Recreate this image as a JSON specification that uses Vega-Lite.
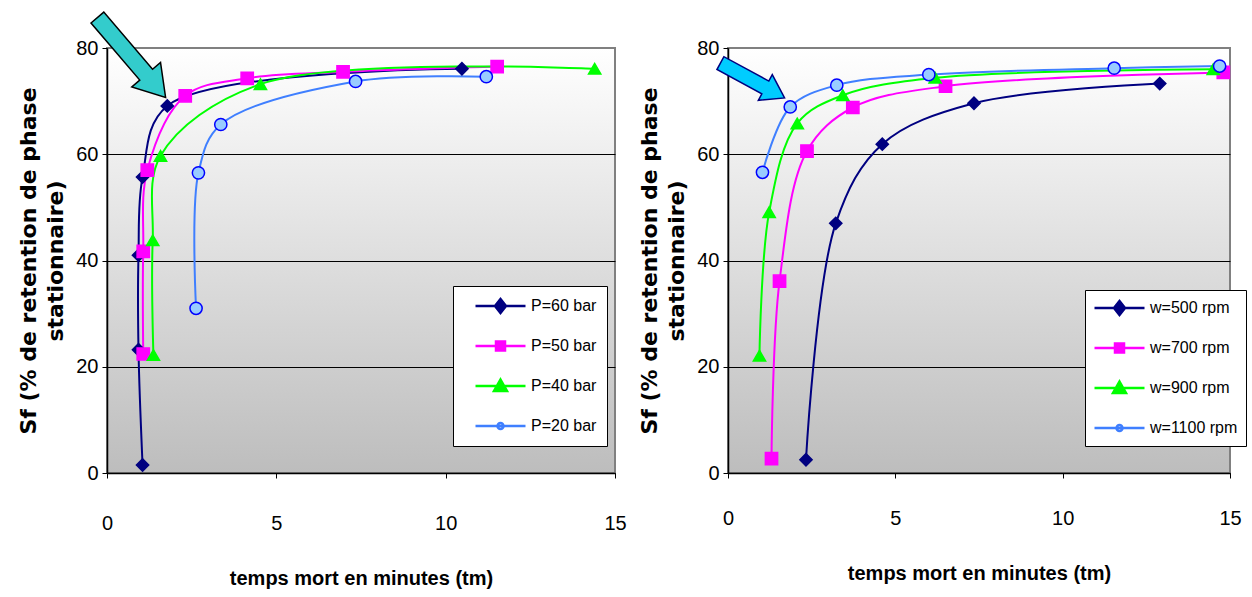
{
  "$schema": "https://vega.github.io/schema/vega-lite/v6.json",
  "background": "white",
  "padding": {"left": 16, "top": 8, "right": 3, "bottom": 5},
  "spacing": 9,
  "datasets": {
    "left": [
      {"series": "P=60 bar", "t": 1.05, "sf": 1.5},
      {"series": "P=60 bar", "t": 0.93, "sf": 23.2},
      {"series": "P=60 bar", "t": 0.93, "sf": 41.0},
      {"series": "P=60 bar", "t": 1.05, "sf": 55.7},
      {"series": "P=60 bar", "t": 1.78, "sf": 69.1},
      {"series": "P=60 bar", "t": 10.48, "sf": 76.1},
      {"series": "P=50 bar", "t": 1.07, "sf": 22.4},
      {"series": "P=50 bar", "t": 1.07, "sf": 41.7},
      {"series": "P=50 bar", "t": 1.19, "sf": 57.0},
      {"series": "P=50 bar", "t": 2.31, "sf": 71.0},
      {"series": "P=50 bar", "t": 4.14, "sf": 74.3},
      {"series": "P=50 bar", "t": 6.97, "sf": 75.5},
      {"series": "P=50 bar", "t": 11.52, "sf": 76.5},
      {"series": "P=40 bar", "t": 1.37, "sf": 22.2},
      {"series": "P=40 bar", "t": 1.35, "sf": 43.8},
      {"series": "P=40 bar", "t": 1.58, "sf": 59.7},
      {"series": "P=40 bar", "t": 4.53, "sf": 73.2},
      {"series": "P=40 bar", "t": 14.4, "sf": 76.1},
      {"series": "P=20 bar", "t": 2.63, "sf": 31.0},
      {"series": "P=20 bar", "t": 2.70, "sf": 56.5},
      {"series": "P=20 bar", "t": 3.36, "sf": 65.6},
      {"series": "P=20 bar", "t": 7.34, "sf": 73.7},
      {"series": "P=20 bar", "t": 11.2, "sf": 74.6}
    ],
    "right": [
      {"series": "w=500 rpm", "t": 2.33, "sf": 2.5},
      {"series": "w=500 rpm", "t": 3.22, "sf": 47.0},
      {"series": "w=500 rpm", "t": 4.61, "sf": 61.9},
      {"series": "w=500 rpm", "t": 7.35, "sf": 69.6},
      {"series": "w=500 rpm", "t": 12.9, "sf": 73.3},
      {"series": "w=700 rpm", "t": 1.30, "sf": 2.7},
      {"series": "w=700 rpm", "t": 1.54, "sf": 36.1},
      {"series": "w=700 rpm", "t": 2.36, "sf": 60.6},
      {"series": "w=700 rpm", "t": 3.73, "sf": 68.8},
      {"series": "w=700 rpm", "t": 6.5, "sf": 72.8},
      {"series": "w=700 rpm", "t": 14.8, "sf": 75.4},
      {"series": "w=900 rpm", "t": 0.94, "sf": 22.1},
      {"series": "w=900 rpm", "t": 1.23, "sf": 49.1},
      {"series": "w=900 rpm", "t": 2.07, "sf": 65.8},
      {"series": "w=900 rpm", "t": 3.43, "sf": 71.1},
      {"series": "w=900 rpm", "t": 6.19, "sf": 74.4},
      {"series": "w=900 rpm", "t": 14.5, "sf": 76.0},
      {"series": "w=1100 rpm", "t": 1.03, "sf": 56.6},
      {"series": "w=1100 rpm", "t": 1.86, "sf": 68.9},
      {"series": "w=1100 rpm", "t": 3.25, "sf": 73.0},
      {"series": "w=1100 rpm", "t": 6.0, "sf": 75.0},
      {"series": "w=1100 rpm", "t": 11.54, "sf": 76.2},
      {"series": "w=1100 rpm", "t": 14.69, "sf": 76.6}
    ],
    "arrowL": [{"t": 1.73, "sf": 70.7}],
    "arrowR": [{"t": 1.69, "sf": 70.6}]
  },
  "config": {
    "view": {
      "stroke": "#808080",
      "strokeWidth": 2,
      "fill": {"gradient": "linear", "x1": 0, "y1": 0, "x2": 0, "y2": 1, "stops": [{"offset": 0, "color": "#ffffff"}, {"offset": 1, "color": "#bdbdbd"}]}
    },
    "axis": {
      "labelFont": "Liberation Sans Narrow, Arial Narrow, Liberation Sans",
      "labelFontSize": 20,
      "labelColor": "black",
      "domainColor": "black",
      "domainWidth": 1.5,
      "tickColor": "black",
      "tickSize": 5,
      "titleColor": "black"
    },
    "axisX": {
      "labelFlush": false,
      "titleFont": "Liberation Sans",
      "titleFontWeight": "bold",
      "titleFontSize": 20,
      "grid": false
    },
    "axisY": {
      "labelPadding": 4,
      "titlePadding": 8,
      "titleFont": "DejaVu Sans",
      "titleFontWeight": "bold",
      "titleFontSize": 22,
      "titleLineHeight": 27,
      "grid": true,
      "gridColor": {"condition": {"test": "datum.value === 80", "value": "#808080"}, "value": "black"},
      "gridWidth": 1
    },
    "legend": {
      "orient": "none",
      "fillColor": "white",
      "strokeColor": "black",
      "padding": 12,
      "rowPadding": 20,
      "clipHeight": 20,
      "symbolSize": 2500,
      "symbolStrokeWidth": 2.5,
      "labelFont": "Liberation Sans Narrow, Arial Narrow, Liberation Sans",
      "labelFontSize": 16,
      "labelColor": "black"
    }
  },
  "hconcat": [
    {
      "width": 508,
      "height": 425,
      "layer": [
        {
          "data": {"name": "left"},
          "mark": {"type": "line", "interpolate": "catmull-rom", "strokeWidth": 2},
          "encoding": {
            "x": {"field": "t", "type": "quantitative", "scale": {"domain": [0, 15], "nice": false}, "axis": {"values": [0, 5, 10, 15], "title": "temps mort en minutes (tm)", "labelPadding": 35, "titlePadding": 35}},
            "y": {"field": "sf", "type": "quantitative", "scale": {"domain": [0, 80], "nice": false}, "axis": {"values": [0, 20, 40, 60, 80], "title": ["Sf (% de retention de phase", "stationnaire)"]}},
            "color": {"field": "series", "type": "nominal", "scale": {"domain": ["P=60 bar", "P=50 bar", "P=40 bar", "P=20 bar"], "range": ["#000080", "#ff00ff", "#00ff00", "#3f7fff"]}, "legend": null},
            "order": {"field": "sf", "type": "quantitative"}
          }
        },
        {
          "data": {"name": "left"},
          "mark": {"type": "point", "filled": true, "opacity": 1, "strokeWidth": 1.5, "size": 150},
          "encoding": {
            "x": {"field": "t", "type": "quantitative"},
            "y": {"field": "sf", "type": "quantitative"},
            "shape": {"field": "series", "type": "nominal", "scale": {"domain": ["P=60 bar", "P=50 bar", "P=40 bar", "P=20 bar"], "range": ["diamond", "square", "triangle-up", "circle"]}, "legend": null},
            "fill": {"field": "series", "type": "nominal", "scale": {"domain": ["P=60 bar", "P=50 bar", "P=40 bar", "P=20 bar"], "range": ["#000080", "#ff00ff", "#00ff00", "#99ccff"]}, "legend": null},
            "stroke": {"field": "series", "type": "nominal", "scale": {"domain": ["P=60 bar", "P=50 bar", "P=40 bar", "P=20 bar"], "range": ["#000080", "#ff00ff", "#00ff00", "#0000ff"]}, "legend": null}
          }
        },
        {
          "data": {"name": "left"},
          "transform": [{"filter": "false"}],
          "mark": {"type": "point", "filled": true, "opacity": 1, "strokeWidth": 2.5},
          "encoding": {
            "x": {"field": "t", "type": "quantitative"},
            "y": {"field": "sf", "type": "quantitative"},
            "shape": {"field": "series", "type": "nominal", "scale": {"domain": ["P=60 bar", "P=50 bar", "P=40 bar", "P=20 bar"], "range": ["M-0.56,0L1.44,0M0.44,-0.28L0.66,0L0.44,0.28L0.22,0Z", "M-0.56,0L1.44,0M0.26,-0.18L0.62,-0.18L0.62,0.18L0.26,0.18Z", "M-0.56,0L1.44,0M0.44,-0.26L0.7,0.2L0.18,0.2Z", "M-0.56,0L1.44,0M0.32,0A0.12,0.12,0,1,1,0.56,0A0.12,0.12,0,1,1,0.32,0Z"]}, "legend": {"title": null, "orient": "none", "legendX": 346, "legendY": 238, "padding": 10, "labelOffset": 15}},
            "fill": {"field": "series", "type": "nominal", "scale": {"domain": ["P=60 bar", "P=50 bar", "P=40 bar", "P=20 bar"], "range": ["#000080", "#ff00ff", "#00ff00", "#ffffff"]}, "legend": {"title": null, "orient": "none", "legendX": 346, "legendY": 238, "padding": 10, "labelOffset": 15}},
            "stroke": {"field": "series", "type": "nominal", "scale": {"domain": ["P=60 bar", "P=50 bar", "P=40 bar", "P=20 bar"], "range": ["#000080", "#ff00ff", "#00ff00", "#3f7fff"]}, "legend": {"title": null, "orient": "none", "legendX": 346, "legendY": 238, "padding": 10, "labelOffset": 15}}
          }
        },
        {
          "data": {"name": "arrowL"},
          "mark": {"type": "point", "filled": true, "opacity": 1, "fill": "#33cccc", "stroke": "black", "strokeWidth": 1.5, "size": 11025, "angle": 49.5, "shape": "M0,0L-0.57,-0.36L-0.57,-0.16L-2,-0.16L-2,0.16L-0.57,0.16L-0.57,0.36Z"},
          "encoding": {
            "x": {"field": "t", "type": "quantitative"},
            "y": {"field": "sf", "type": "quantitative"}
          }
        }
      ],
      "resolve": {"scale": {"shape": "independent", "fill": "independent", "stroke": "independent"}}
    },
    {
      "width": 502,
      "height": 425,
      "layer": [
        {
          "data": {"name": "right"},
          "mark": {"type": "line", "interpolate": "catmull-rom", "strokeWidth": 2},
          "encoding": {
            "x": {"field": "t", "type": "quantitative", "scale": {"domain": [0, 15], "nice": false}, "axis": {"values": [0, 5, 10, 15], "title": "temps mort en minutes (tm)", "labelPadding": 30, "titlePadding": 35}},
            "y": {"field": "sf", "type": "quantitative", "scale": {"domain": [0, 80], "nice": false}, "axis": {"values": [0, 20, 40, 60, 80], "title": ["Sf (% de retention de phase", "stationnaire)"]}},
            "color": {"field": "series", "type": "nominal", "scale": {"domain": ["w=500 rpm", "w=700 rpm", "w=900 rpm", "w=1100 rpm"], "range": ["#000080", "#ff00ff", "#00ff00", "#3f7fff"]}, "legend": null},
            "order": {"field": "sf", "type": "quantitative"}
          }
        },
        {
          "data": {"name": "right"},
          "mark": {"type": "point", "filled": true, "opacity": 1, "strokeWidth": 1.5, "size": 150},
          "encoding": {
            "x": {"field": "t", "type": "quantitative"},
            "y": {"field": "sf", "type": "quantitative"},
            "shape": {"field": "series", "type": "nominal", "scale": {"domain": ["w=500 rpm", "w=700 rpm", "w=900 rpm", "w=1100 rpm"], "range": ["diamond", "square", "triangle-up", "circle"]}, "legend": null},
            "fill": {"field": "series", "type": "nominal", "scale": {"domain": ["w=500 rpm", "w=700 rpm", "w=900 rpm", "w=1100 rpm"], "range": ["#000080", "#ff00ff", "#00ff00", "#99ccff"]}, "legend": null},
            "stroke": {"field": "series", "type": "nominal", "scale": {"domain": ["w=500 rpm", "w=700 rpm", "w=900 rpm", "w=1100 rpm"], "range": ["#000080", "#ff00ff", "#00ff00", "#0000ff"]}, "legend": null}
          }
        },
        {
          "data": {"name": "right"},
          "transform": [{"filter": "false"}],
          "mark": {"type": "point", "filled": true, "opacity": 1, "strokeWidth": 2.5},
          "encoding": {
            "x": {"field": "t", "type": "quantitative"},
            "y": {"field": "sf", "type": "quantitative"},
            "shape": {"field": "series", "type": "nominal", "scale": {"domain": ["w=500 rpm", "w=700 rpm", "w=900 rpm", "w=1100 rpm"], "range": ["M-1,0L1,0M0,-0.28L0.22,0L0,0.28L-0.22,0Z", "M-1,0L1,0M-0.18,-0.18L0.18,-0.18L0.18,0.18L-0.18,0.18Z", "M-1,0L1,0M0,-0.26L0.26,0.2L-0.26,0.2Z", "M-1,0L1,0M-0.12,0A0.12,0.12,0,1,1,0.12,0A0.12,0.12,0,1,1,-0.12,0Z"]}, "legend": {"title": null, "orient": "none", "legendX": 357, "legendY": 242, "padding": 8, "labelOffset": 4}},
            "fill": {"field": "series", "type": "nominal", "scale": {"domain": ["w=500 rpm", "w=700 rpm", "w=900 rpm", "w=1100 rpm"], "range": ["#000080", "#ff00ff", "#00ff00", "#ffffff"]}, "legend": {"title": null, "orient": "none", "legendX": 357, "legendY": 242, "padding": 8, "labelOffset": 4}},
            "stroke": {"field": "series", "type": "nominal", "scale": {"domain": ["w=500 rpm", "w=700 rpm", "w=900 rpm", "w=1100 rpm"], "range": ["#000080", "#ff00ff", "#00ff00", "#3f7fff"]}, "legend": {"title": null, "orient": "none", "legendX": 357, "legendY": 242, "padding": 8, "labelOffset": 4}}
          }
        },
        {
          "data": {"name": "arrowR"},
          "mark": {"type": "point", "filled": true, "opacity": 1, "fill": "#00ccff", "stroke": "#000080", "strokeWidth": 1.5, "size": 5329, "angle": 28.5, "shape": "M0,0L-0.6,-0.4L-0.6,-0.2L-2,-0.2L-2,0.2L-0.6,0.2L-0.6,0.4Z"},
          "encoding": {
            "x": {"field": "t", "type": "quantitative"},
            "y": {"field": "sf", "type": "quantitative"}
          }
        }
      ],
      "resolve": {"scale": {"shape": "independent", "fill": "independent", "stroke": "independent"}}
    }
  ]
}
